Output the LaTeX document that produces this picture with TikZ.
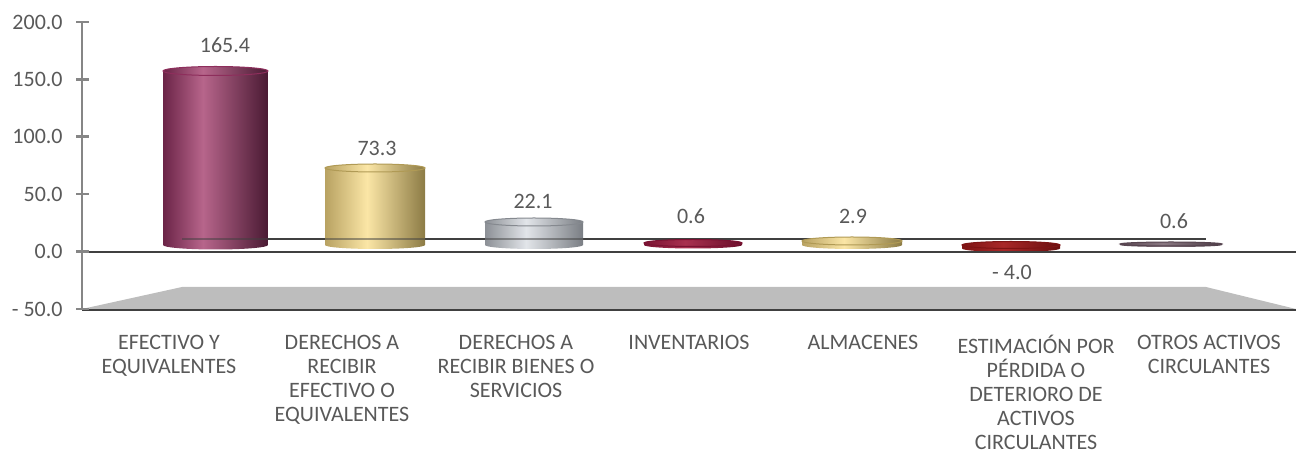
\documentclass[tikz,border=0pt]{standalone}
\usepackage{fontspec}
\setmainfont{Carlito}
\definecolor{txt}{HTML}{595959}
\definecolor{axisgray}{HTML}{868686}
\definecolor{linedark}{HTML}{404040}
\definecolor{floorgray}{HTML}{BDBDBD}
\definecolor{mA}{HTML}{6B2447}
\definecolor{mB}{HTML}{B7658B}
\definecolor{mC}{HTML}{4A1A33}
\definecolor{mRim}{HTML}{8E2E5C}
\definecolor{kA}{HTML}{B8A262}
\definecolor{kB}{HTML}{FBE6A6}
\definecolor{kC}{HTML}{8C7B45}
\definecolor{kRim}{HTML}{B09A55}
\definecolor{gA}{HTML}{8C9096}
\definecolor{gB}{HTML}{E2E5E9}
\definecolor{gC}{HTML}{7A7E84}
\definecolor{gRim}{HTML}{85898F}
\definecolor{iA}{HTML}{7A1232}
\definecolor{iB}{HTML}{A8304F}
\definecolor{iC}{HTML}{6A0E2A}
\definecolor{eA}{HTML}{7E1414}
\definecolor{eB}{HTML}{A82828}
\definecolor{eC}{HTML}{6A0F0F}
\definecolor{oA}{HTML}{574550}
\definecolor{oB}{HTML}{8A7882}
\definecolor{oC}{HTML}{4A3A44}
\pgfdeclarehorizontalshading{maroonbody}{100bp}{color(0bp)=(mA); color(25bp)=(mA); color(44bp)=(mB); color(75bp)=(mC); color(100bp)=(mC)}
\pgfdeclarehorizontalshading{khakibody}{100bp}{color(0bp)=(kA); color(25bp)=(kA); color(46bp)=(kB); color(75bp)=(kC); color(100bp)=(kC)}
\pgfdeclarehorizontalshading{graybody}{100bp}{color(0bp)=(gA); color(25bp)=(gA); color(46bp)=(gB); color(75bp)=(gC); color(100bp)=(gC)}
\pgfdeclarehorizontalshading{invbody}{100bp}{color(0bp)=(iA); color(25bp)=(iA); color(46bp)=(iB); color(75bp)=(iC); color(100bp)=(iC)}
\pgfdeclarehorizontalshading{estbody}{100bp}{color(0bp)=(eA); color(25bp)=(eA); color(46bp)=(eB); color(75bp)=(eC); color(100bp)=(eC)}
\pgfdeclarehorizontalshading{otrbody}{100bp}{color(0bp)=(oA); color(25bp)=(oA); color(46bp)=(oB); color(75bp)=(oC); color(100bp)=(oC)}
% #1 cx, #2 half width, #3 ytop, #4 ybot, #5 ry, #6 shading, #7 rim colour
\newcommand\drawcyl[7]{%
  \path[shading=#6] (#1-#2,#3) -- (#1-#2,#4)
    arc[start angle=180,end angle=0,x radius=#2,y radius=#5] -- (#1+#2,#3)
    arc[start angle=0,end angle=180,x radius=#2,y radius=#5] -- cycle;
  \path[shading=#6,draw=#7,line width=0.5pt] (#1,#3) ellipse[x radius=#2,y radius=#5];
}
\tikzset{
  lbl/.style={font=\fontsize{11}{12}\selectfont,text=txt,inner sep=0pt},
  cat/.style={lbl,anchor=north,align=center},
  tick/.style={lbl,anchor=east},
  val/.style={lbl,anchor=center},
}
\begin{document}
\begin{tikzpicture}[x=0.5pt,y=-0.5pt]
\useasboundingbox (0,0) rectangle (1296,458);
% floor
\fill[floorgray] (82,309) -- (182,287) -- (1206,287) -- (1296,309) -- cycle;
\draw[linedark,line width=1.4pt] (82,310) -- (1296,310);
% back zero line
\draw[linedark,line width=1pt] (180,239) -- (1206,239);
% bars
\drawcyl{215.5}{52.5}{71}{245}{4.5}{maroonbody}{mRim}
\drawcyl{375}{50}{168}{245}{4}{khakibody}{kRim}
\drawcyl{534}{49}{222}{245}{4}{graybody}{gRim}
\drawcyl{693}{49}{243}{245}{3.5}{invbody}{iA}
\drawcyl{852}{50}{241}{245}{4}{khakibody}{kRim}
\drawcyl{1011}{49}{245}{248.5}{3.5}{estbody}{eA}
\drawcyl{1171}{51}{244}{245}{2}{otrbody}{oA}
% back line seen through the bars
\draw[linedark,line width=0.8pt,opacity=0.5] (182,239) -- (583,239);
% front zero line
\draw[linedark,line width=1.3pt] (82,252) -- (1296,252);
% vertical axis
\draw[axisgray,line width=1.4pt] (82,22) -- (82,310);
\foreach \yy in {22,79.4,136.8,194.2,251.6,309}
  \draw[axisgray,line width=1.3pt] (76,\yy) -- (89,\yy);
% tick labels
\node[tick] (t200) at (63,22) {200.0};
\node[tick] (t150) at (63,79.4) {150.0};
\node[tick] (t100) at (63,136.8) {100.0};
\node[tick] (t50)  at (63,194.2) {50.0};
\node[tick] (t0)   at (63,251.6) {0.0};
\node[tick] (tm50) at (63,309) {- 50.0};
% value labels
\node[val] (v1) at (225,45) {165.4};
\node[val] (v2) at (377,148) {73.3};
\node[val] (v3) at (533,201) {22.1};
\node[val] (v4) at (691,216) {0.6};
\node[val] (v5) at (853,216) {2.9};
\node[val] (v6) at (1012,272) {- 4.0};
\node[val] (v7) at (1174,221) {0.6};
% category labels
\node[cat] (c1) at (169,335) {EFECTIVO Y\\EQUIVALENTES};
\node[cat] (c2) at (342,335) {DERECHOS A\\RECIBIR\\EFECTIVO O\\EQUIVALENTES};
\node[cat] (c3) at (516,335) {DERECHOS A\\RECIBIR BIENES O\\SERVICIOS};
\node[cat] (c4) at (689,335) {INVENTARIOS};
\node[cat] (c5) at (863,335) {ALMACENES};
\node[cat] (c6) at (1036,335) {ESTIMACIÓN POR\\PÉRDIDA O\\DETERIORO DE\\ACTIVOS\\CIRCULANTES};
\node[cat] (c7) at (1209,335) {OTROS ACTIVOS\\CIRCULANTES};
\end{tikzpicture}
\end{document}
